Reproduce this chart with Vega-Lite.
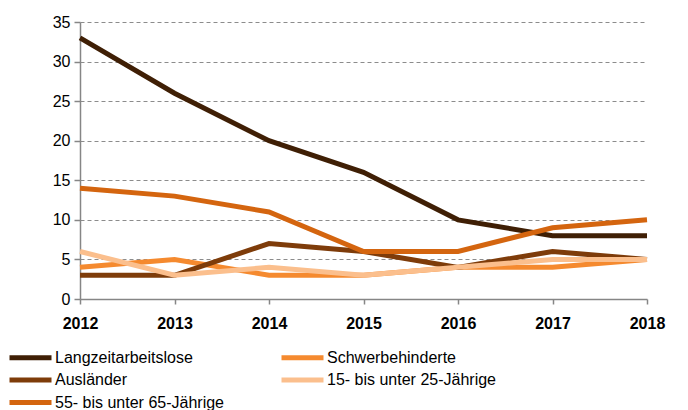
{
  "$schema": "https://vega.github.io/schema/vega-lite/v6.json",
  "width": 567,
  "height": 277,
  "autosize": {"type": "none"},
  "padding": {"left": 80, "top": 22, "right": 41, "bottom": 111},
  "background": "white",
  "config": {
    "view": {"stroke": null},
    "font": "Liberation Sans"
  },
  "data": {
    "values": [
      {"year": 2012, "series": "Langzeitarbeitslose", "value": 33},
      {"year": 2013, "series": "Langzeitarbeitslose", "value": 26},
      {"year": 2014, "series": "Langzeitarbeitslose", "value": 20},
      {"year": 2015, "series": "Langzeitarbeitslose", "value": 16},
      {"year": 2016, "series": "Langzeitarbeitslose", "value": 10},
      {"year": 2017, "series": "Langzeitarbeitslose", "value": 8},
      {"year": 2018, "series": "Langzeitarbeitslose", "value": 8},
      {"year": 2012, "series": "Schwerbehinderte", "value": 4},
      {"year": 2013, "series": "Schwerbehinderte", "value": 5},
      {"year": 2014, "series": "Schwerbehinderte", "value": 3},
      {"year": 2015, "series": "Schwerbehinderte", "value": 3},
      {"year": 2016, "series": "Schwerbehinderte", "value": 4},
      {"year": 2017, "series": "Schwerbehinderte", "value": 4},
      {"year": 2018, "series": "Schwerbehinderte", "value": 5},
      {"year": 2012, "series": "Ausländer", "value": 3},
      {"year": 2013, "series": "Ausländer", "value": 3},
      {"year": 2014, "series": "Ausländer", "value": 7},
      {"year": 2015, "series": "Ausländer", "value": 6},
      {"year": 2016, "series": "Ausländer", "value": 4},
      {"year": 2017, "series": "Ausländer", "value": 6},
      {"year": 2018, "series": "Ausländer", "value": 5},
      {"year": 2012, "series": "15- bis unter 25-Jährige", "value": 6},
      {"year": 2013, "series": "15- bis unter 25-Jährige", "value": 3},
      {"year": 2014, "series": "15- bis unter 25-Jährige", "value": 4},
      {"year": 2015, "series": "15- bis unter 25-Jährige", "value": 3},
      {"year": 2016, "series": "15- bis unter 25-Jährige", "value": 4},
      {"year": 2017, "series": "15- bis unter 25-Jährige", "value": 5},
      {"year": 2018, "series": "15- bis unter 25-Jährige", "value": 5},
      {"year": 2012, "series": "55- bis unter 65-Jährige", "value": 14},
      {"year": 2013, "series": "55- bis unter 65-Jährige", "value": 13},
      {"year": 2014, "series": "55- bis unter 65-Jährige", "value": 11},
      {"year": 2015, "series": "55- bis unter 65-Jährige", "value": 6},
      {"year": 2016, "series": "55- bis unter 65-Jährige", "value": 6},
      {"year": 2017, "series": "55- bis unter 65-Jährige", "value": 9},
      {"year": 2018, "series": "55- bis unter 65-Jährige", "value": 10}
    ]
  },
  "mark": {"type": "line", "strokeWidth": 5, "strokeCap": "butt", "strokeJoin": "miter"},
  "encoding": {
    "x": {
      "field": "year", "type": "quantitative",
      "scale": {"domain": [2012, 2018], "nice": false, "zero": false},
      "axis": {
        "title": null, "format": "d", "values": [2012, 2013, 2014, 2015, 2016, 2017, 2018],
        "grid": false, "domainColor": "#868686", "domainWidth": 1.5,
        "tickColor": "#868686", "tickWidth": 1.5, "tickSize": 5,
        "labelFont": "Liberation Sans", "labelFontSize": 16, "labelFontWeight": "bold",
        "labelColor": "#000000", "labelPadding": 11, "labelFlush": false
      }
    },
    "y": {
      "field": "value", "type": "quantitative",
      "scale": {"domain": [0, 35], "nice": false},
      "axis": {
        "title": null, "values": [0, 5, 10, 15, 20, 25, 30, 35],
        "grid": true, "gridColor": "#8c8c8c", "gridDash": [4, 3], "gridWidth": 1,
        "domainColor": "#868686", "domainWidth": 1.5,
        "tickColor": "#868686", "tickWidth": 1.5, "tickSize": 6,
        "labelFont": "Liberation Sans", "labelFontSize": 16,
        "labelColor": "#000000", "labelPadding": 4
      }
    },
    "color": {
      "field": "series", "type": "nominal",
      "scale": {
        "domain": ["Langzeitarbeitslose", "Ausländer", "55- bis unter 65-Jährige", "Schwerbehinderte", "15- bis unter 25-Jährige"],
        "range": ["#3f1f05", "#7e3c0a", "#d4650f", "#f58a2f", "#fbbf8d"]
      },
      "legend": {
        "title": null, "orient": "none", "legendX": -73, "legendY": 326,
        "columns": 2, "columnPadding": 47, "rowPadding": 1.5, "padding": 0,
        "symbolType": "M-1,0H5", "symbolSize": 196, "symbolStrokeWidth": 5,
        "labelFont": "Liberation Sans", "labelFontSize": 16, "labelColor": "#000000",
        "labelOffset": 29, "labelLimit": 400
      }
    }
  }
}
